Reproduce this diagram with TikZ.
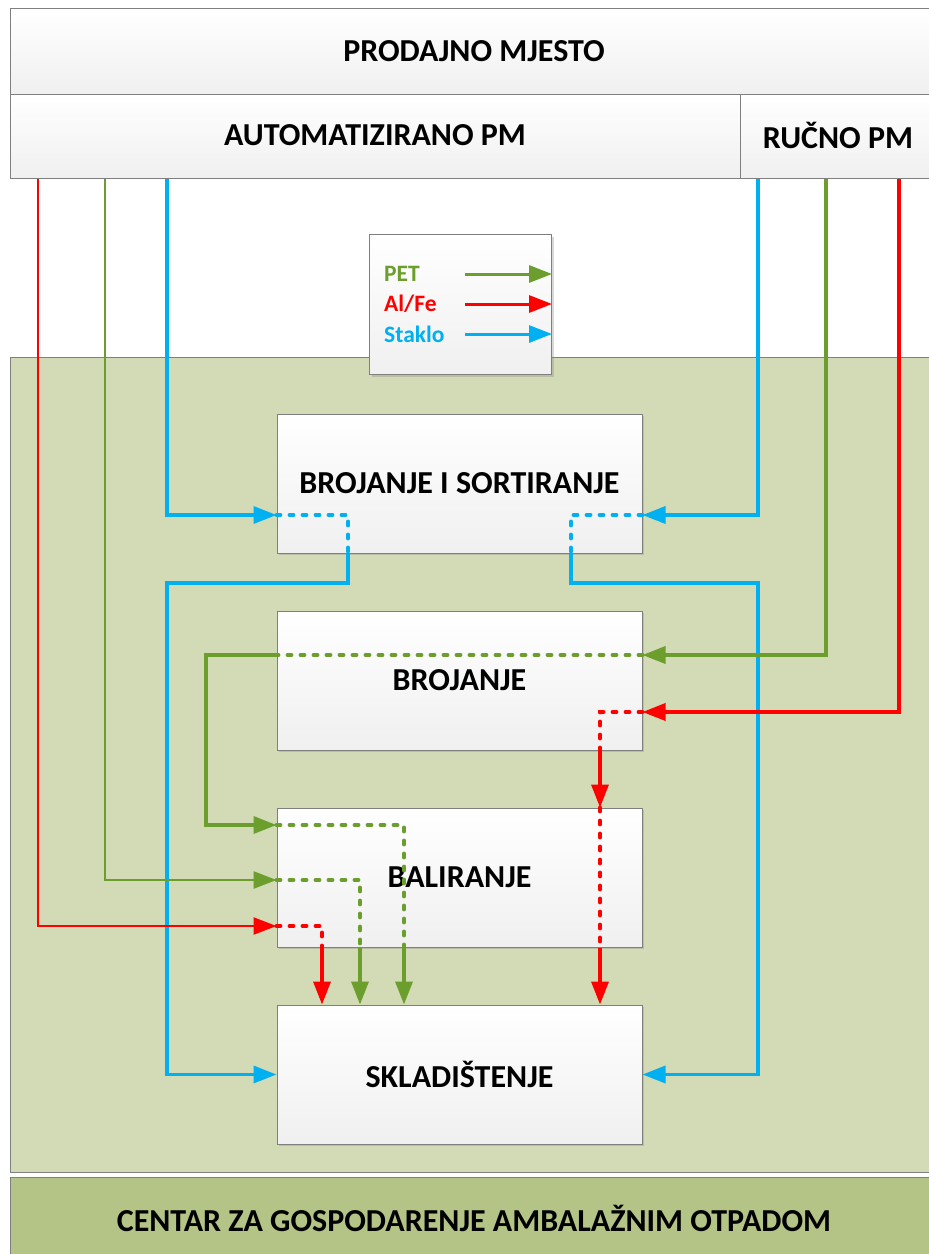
\documentclass[tikz,border=0pt]{standalone}
\usepackage{fontspec}
\setmainfont{Carlito}
\usetikzlibrary{arrows.meta,shadows}
\definecolor{cgreen}{HTML}{6B9E2C}
\definecolor{cred}{HTML}{FF0000}
\definecolor{cblue}{HTML}{00B0F0}
\definecolor{bgarea}{HTML}{D3DAB6}
\definecolor{bandcol}{HTML}{B4C386}
\definecolor{framecol}{HTML}{7F7F7F}
\begin{document}
\begin{tikzpicture}[x=1pt,y=-1pt,
  bigtext/.style={font=\bfseries\fontsize{32}{38}\selectfont},
  hdrbox/.style={draw=framecol, line width=1pt, top color=white, bottom color=black!6, inner sep=0pt, anchor=north west, bigtext},
  stagebox/.style={draw=framecol, line width=1pt, top color=white, bottom color=black!6,
    minimum width=365pt, minimum height=139pt, inner sep=0pt, bigtext,
    drop shadow={shadow xshift=2pt,shadow yshift=-2pt,opacity=0.3}},
  flowthick/.style={line width=3.5pt},
  flowthin/.style={line width=2.6pt},
  tipped/.style={-{Triangle[length=23pt,width=17pt]}},
  dots/.style={line width=3.8pt, dash pattern=on 4pt off 9pt, line cap=round},
  legtext/.style={font=\bfseries\fontsize{23.5}{28}\selectfont, anchor=west, inner sep=0pt}
]
\useasboundingbox (0,0) rectangle (929,1254);
\fill[white] (0,0) rectangle (929,1254);

% green area and bottom band
\node[draw=framecol, line width=1pt, fill=bgarea, anchor=north west, minimum width=930pt, minimum height=815pt, inner sep=0pt] (area) at (10,357) {};
\node[draw=framecol, line width=1pt, fill=bandcol, anchor=north west, minimum width=930pt, minimum height=90pt, inner sep=0pt] (band) at (10,1177) {};
\node[bigtext] (bandtxt) at (474,1218) {CENTAR ZA GOSPODARENJE AMBALAŽNIM OTPADOM};

% header
\node[hdrbox, minimum width=928pt, minimum height=86pt] (pm) at (10,8) {};
\node[bigtext] (pmtxt) at (474,51) {PRODAJNO MJESTO};
\node[hdrbox, minimum width=730pt, minimum height=84pt] (auto) at (10,94) {};
\node[bigtext] (autotxt) at (375,135) {AUTOMATIZIRANO PM};
\node[hdrbox, minimum width=196pt, minimum height=84pt] (rucno) at (740,94) {};
\node[bigtext] (rucnotxt) at (838,135) {RUČNO PM};

% legend
\node[draw=framecol, line width=1pt, top color=white, bottom color=black!6, anchor=north west,
  minimum width=182pt, minimum height=140pt, inner sep=0pt,
  drop shadow={shadow xshift=2pt,shadow yshift=-2pt,opacity=0.3}] (leg) at (369,234) {};
\node[legtext, text=cgreen] (lpet) at (384,274) {PET};
\node[legtext, text=cred] (lal) at (384,304) {Al/Fe};
\node[legtext, text=cblue] (lst) at (384,334) {Staklo};
\coordinate (la) at (465,0);
\draw[cgreen, line width=3pt, tipped] (la |- lpet) -- (leg.east |- lpet);
\draw[cred, line width=3pt, tipped] (la |- lal) -- (leg.east |- lal);
\draw[cblue, line width=3pt, tipped] (la |- lst) -- (leg.east |- lst);

% stages
\node[stagebox] (bs) at (459.5,483.5) {BROJANJE I SORTIRANJE};
\node[stagebox] (br) at (459.5,680.5) {BROJANJE};
\node[stagebox] (ba) at (459.5,877.5) {BALIRANJE};
\node[stagebox] (sk) at (459.5,1074.5) {SKLADIŠTENJE};

% coordinates
\coordinate (xb1) at (167,0);
\coordinate (xb2) at (348,0);
\coordinate (xb3) at (758,0);
\coordinate (xb4) at (571,0);
\coordinate (yB) at (0,515);
\coordinate (b1) at (348,583);
\coordinate (b2) at (167,583);
\coordinate (b3) at (571,583);
\coordinate (b4) at (758,583);
\coordinate (xg0) at (105,0);
\coordinate (xg3) at (826,0);
\coordinate (xg4) at (404,0);
\coordinate (xg5) at (360,0);
\coordinate (g1) at (206,655);
\coordinate (yG1) at (0,655);
\coordinate (yG2) at (0,825);
\coordinate (yG3) at (0,880);
\coordinate (xr0) at (38,0);
\coordinate (xr1) at (322,0);
\coordinate (xr2) at (600,0);
\coordinate (xr3) at (899,0);
\coordinate (yR1) at (0,926);
\coordinate (yR2) at (0,712);

% blue (Staklo)
\draw[cblue, flowthick, tipped] (auto.south -| xb1) |- (bs.west |- yB);
\draw[cblue, dots] (bs.west |- yB) -| (bs.south -| xb2);
\draw[cblue, flowthick, tipped] (bs.south -| b1) -- (b1) -- (b2) |- (sk.west);
\draw[cblue, flowthick, tipped] (rucno.south -| xb3) |- (bs.east |- yB);
\draw[cblue, dots] (bs.east |- yB) -| (bs.south -| xb4);
\draw[cblue, flowthick, tipped] (bs.south -| b3) -- (b3) -- (b4) |- (sk.east);

% green (PET)
\draw[cgreen, flowthick, tipped] (rucno.south -| xg3) |- (br.east |- yG1);
\draw[cgreen, dots] (br.east |- yG1) -- (br.west |- yG1);
\draw[cgreen, flowthick, tipped] (br.west |- yG1) -- (g1) |- (ba.west |- yG2);
\draw[cgreen, dots] (ba.west |- yG2) -| (ba.south -| xg4);
\draw[cgreen, flowthick, tipped] (ba.south -| xg4) -- (sk.north -| xg4);
\draw[cgreen, flowthin, tipped] (auto.south -| xg0) |- (ba.west |- yG3);
\draw[cgreen, dots] (ba.west |- yG3) -| (ba.south -| xg5);
\draw[cgreen, flowthick, tipped] (ba.south -| xg5) -- (sk.north -| xg5);

% red (Al/Fe)
\draw[cred, flowthin, tipped] (auto.south -| xr0) |- (ba.west |- yR1);
\draw[cred, dots] (ba.west |- yR1) -| (ba.south -| xr1);
\draw[cred, flowthick, tipped] (ba.south -| xr1) -- (sk.north -| xr1);
\draw[cred, flowthick, tipped] (rucno.south -| xr3) |- (br.east |- yR2);
\draw[cred, dots] (br.east |- yR2) -| (br.south -| xr2);
\draw[cred, flowthick, tipped] (br.south -| xr2) -- (ba.north -| xr2);
\draw[cred, dots] (ba.north -| xr2) -- (ba.south -| xr2);
\draw[cred, flowthick, tipped] (ba.south -| xr2) -- (sk.north -| xr2);
\end{tikzpicture}
\end{document}
